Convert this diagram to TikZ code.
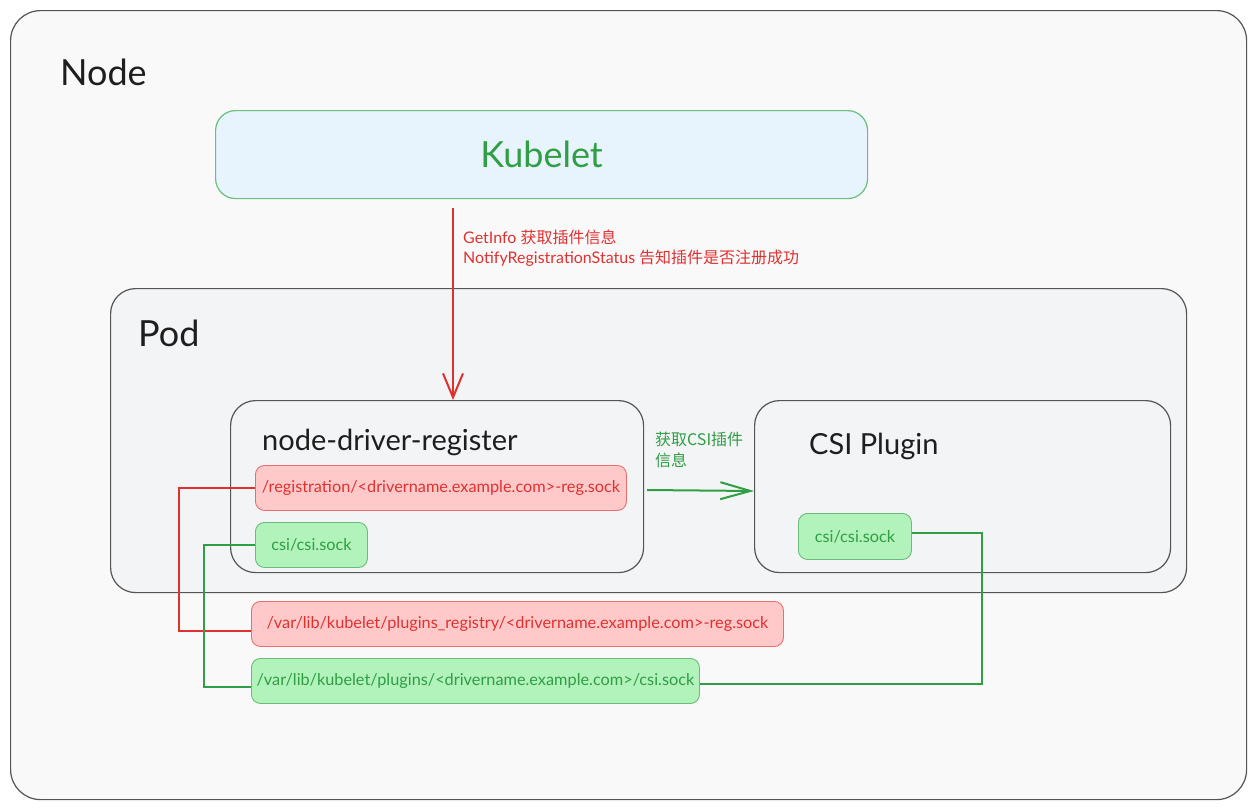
\documentclass[tikz,border=0pt]{standalone}
\usepackage{fontspec}
\setmainfont{Lato}
\newfontfamily\cjk{Noto Sans CJK SC}
\usetikzlibrary{arrows.meta}
\definecolor{exred}{HTML}{E03131}
\definecolor{exgreen}{HTML}{2F9E44}
\definecolor{redfill}{HTML}{FFC9C9}
\definecolor{greenfill}{HTML}{B2F2BB}
\definecolor{bluefill}{HTML}{E7F3FD}
\definecolor{kubeborder}{HTML}{6CC07C}
\definecolor{nodefill}{HTML}{F9F9F9}
\definecolor{podfill}{HTML}{F3F4F6}
\definecolor{boxline}{HTML}{555555}
\definecolor{textdark}{HTML}{1E1E1E}
\tikzset{
  frame/.style={draw=boxline, line width=1.2pt, anchor=north west, inner sep=0pt},
  redsock/.style={draw=exred!70, fill=redfill, rounded corners=9pt, text=exred, font=\fontsize{16.3}{19}\selectfont, anchor=north west, inner sep=0pt, line width=0.9pt},
  greensock/.style={draw=exgreen!70, fill=greenfill, rounded corners=9pt, text=exgreen, font=\fontsize{16.3}{19}\selectfont, anchor=north west, inner sep=0pt, line width=0.9pt},
  title/.style={text=textdark, anchor=west, inner sep=0pt},
  redline/.style={draw=exred, line width=2pt},
  greenline/.style={draw=exgreen, line width=2pt},
  redbarb/.style={-{Straight Barb[length=24pt,width=20pt,line width=2pt]}},
  greenbarb/.style={-{Straight Barb[length=30pt,width=17pt,line width=2pt]}},
}
\begin{document}
\begin{tikzpicture}[x=1pt,y=-1pt]
\useasboundingbox (0,0) rectangle (1256,809);
\fill[white] (0,0) rectangle (1256,809);
% Node frame
\node[frame, fill=nodefill, rounded corners=30pt, minimum width=1236pt, minimum height=789pt] (nodebox) at (10,10) {};
\node[title, font=\fontsize{36}{40}\selectfont] (nodetitle) at (60,72) {Node};
% Kubelet
\node[draw=kubeborder, fill=bluefill, rounded corners=20pt, anchor=north west, inner sep=0pt, line width=1.2pt, minimum width=652pt, minimum height=88pt, text=exgreen, font=\fontsize{36}{40}\selectfont] (kubelet) at (215,110) {Kubelet};
% Pod
\node[frame, fill=podfill, rounded corners=25pt, minimum width=1076pt, minimum height=304pt] (pod) at (110,288) {};
\node[title, font=\fontsize{36}{40}\selectfont] (podtitle) at (138,333) {Pod};
% node-driver-register
\node[frame, fill=podfill, rounded corners=25pt, minimum width=413pt, minimum height=172pt] (ndr) at (230,400) {};
\node[title, font=\fontsize{29}{33}\selectfont] (ndrtitle) at (262,442) {node-driver-register};
\node[redsock, minimum width=371pt, minimum height=45pt] (regsock) at (255,465) {/registration/<drivername.example.com>-reg.sock};
\node[greensock, minimum width=112pt, minimum height=45pt] (csisock) at (255,522) {csi/csi.sock};
% CSI Plugin
\node[frame, fill=podfill, rounded corners=25pt, minimum width=416pt, minimum height=172pt] (csiplugin) at (754,400) {};
\node[title, font=\fontsize{29}{33}\selectfont] (csititle) at (809,446) {CSI Plugin};
\node[greensock, minimum width=113pt, minimum height=46pt] (pluginsock) at (798,513) {csi/csi.sock};
% bottom host paths
\node[redsock, minimum width=532pt, minimum height=45pt] (varreg) at (251,601) {/var/lib/kubelet/plugins\_registry/<drivername.example.com>-reg.sock};
\node[greensock, minimum width=448pt, minimum height=45pt] (varcsi) at (251,658) {/var/lib/kubelet/plugins/<drivername.example.com>/csi.sock};
% red arrow from kubelet
\coordinate (kstart) at (453,208);
\draw[redline, redbarb] (kstart) -- (kstart |- ndr.north);
\node[anchor=north west, align=left, inner sep=0pt, text=exred, font=\fontsize{16}{19.5}\selectfont] (kubelabel) at (463,230)
  {GetInfo {\cjk 获取插件信息}\\NotifyRegistrationStatus {\cjk 告知插件是否注册成功}};
% green arrow between containers
\coordinate (gstart) at (647,490);
\draw[greenline, greenbarb] (gstart) -- ([yshift=-1pt]csiplugin.west |- gstart);
\node[anchor=north west, align=left, inner sep=0pt, text=exgreen, font=\cjk\fontsize{16}{21}\selectfont] (arrowlabel) at (655,432)
  {获取CSI插件\\信息};
% socket links
\draw[redline] (regsock.west) -- ++(-76,0) |- ([yshift=-7pt]varreg.west);
\draw[greenline] (csisock.west) -- ++(-51,0) |- ([yshift=-6pt]varcsi.west);
\draw[greenline] ([yshift=3pt]pluginsock.east) -- ++(70,0) |- ([yshift=-3pt]varcsi.east);
\end{tikzpicture}
\end{document}
